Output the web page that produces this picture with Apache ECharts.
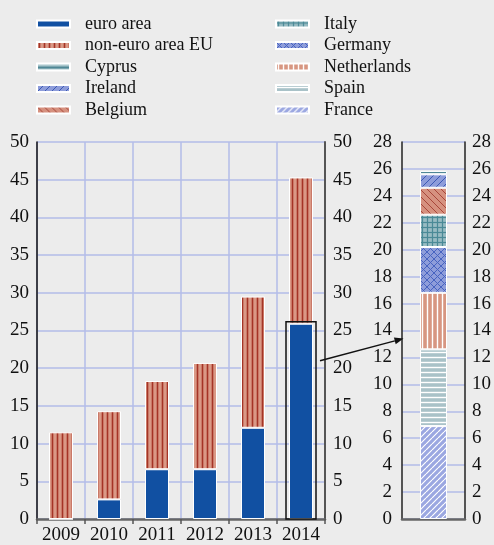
<!DOCTYPE html>
<html>
<head>
<meta charset="utf-8">
<script src="https://cdn.jsdelivr.net/npm/echarts@6/dist/echarts.min.js"></script>
<style>
  html, body { margin: 0; padding: 0; background: #ececec; }
  #chart { width: 494px; height: 545px; }
</style>
</head>
<body>
<div id="chart"></div>
<script>
// left panel: EU totals per year
const years = ['2009', '2010', '2011', '2012', '2013', '2014']
const euroArea = [0, 2.6, 6.6, 6.6, 12.1, 25.9]
const nonEuroArea = [11.5, 11.7, 11.7, 14.1, 17.4, 19.4]

// right panel: 2014 euro area breakdown, bottom to top
const countries = ['France', 'Spain', 'Netherlands', 'Germany', 'Italy', 'Belgium', 'Ireland', 'Cyprus']
const countryValues = [6.9, 5.7, 4.2, 3.4, 2.4, 2.0, 1.0, 0.25]

const leftTicks = { min: 0, max: 50, interval: 5 }
const rightTicks = { min: 0, max: 28, interval: 2 }

const legendLeft = ['euro area', 'non-euro area EU', 'Cyprus', 'Ireland', 'Belgium']
const legendRight = ['Italy', 'Germany', 'Netherlands', 'Spain', 'France']

const arrowFromValue = 21
const arrowToValue = 13.4

const FONT = '"Liberation Serif", "Times New Roman", serif'
const gridColor = '#b3bce9'

// --- pattern helpers ---
function pattern(size, bg, draw) {
    const c = document.createElement('canvas')
    c.width = size
    c.height = size
    const ctx = c.getContext('2d')
    ctx.fillStyle = bg
    ctx.fillRect(0, 0, size, size)
    draw(ctx, size)
    return { image: c, repeat: 'repeat' }
}
const vLines = (color, w) => (ctx, s) => { ctx.fillStyle = color; ctx.fillRect(s / 2 - w / 2, 0, w, s) }
const hLines = (color, w) => (ctx, s) => { ctx.fillStyle = color; ctx.fillRect(0, s / 2 - w / 2, s, w) }
const diag = (color, w, dir) => (ctx, s) => {
    ctx.strokeStyle = color
    ctx.lineWidth = w
    ctx.beginPath()
    for (let k = -1; k <= 1; k++) {
        if (dir === '/') { ctx.moveTo(k * s, s); ctx.lineTo(k * s + s, 0) }
        else { ctx.moveTo(k * s, 0); ctx.lineTo(k * s + s, s) }
    }
    ctx.stroke()
}
const both = (a, b) => (ctx, s) => { a(ctx, s); b(ctx, s) }

const fills = {
    'euro area': '#1150a2',
    'non-euro area EU': pattern(5, '#da9986', vLines('#a53426', 1.6)),
    'Cyprus': pattern(8, '#a9c6cc', hLines('#4f8795', 2)),
    'Ireland': pattern(7, '#8d9cda', diag('#3c59b4', 1, '/')),
    'Belgium': pattern(7, '#d6917f', diag('#a8473a', 1, '\\')),
    'Italy': pattern(5, '#98bcc3', both(vLines('#4b8a97', 1.2), hLines('#4b8a97', 1.2))),
    'Germany': pattern(7, '#8e9dda', both(diag('#4763c0', 1, '/'), diag('#4763c0', 1, '\\'))),
    'Netherlands': pattern(5, '#d79681', vLines('#ffffff', 1.4)),
    'Spain': pattern(5, '#a9c2c8', hLines('#ffffff', 1.4)),
    'France': pattern(6, '#9ba7e1', diag('#ffffff', 1.2, '/'))
}

const chart = echarts.init(document.getElementById('chart'))

const tickLabel = { fontFamily: FONT, fontSize: 19, color: '#111' }
const legendBase = {
    orient: 'vertical',
    top: 10,
    itemWidth: 33,
    itemHeight: 7,
    itemGap: 3.5,
    icon: 'rect',
    selectedMode: false,
    textStyle: { fontFamily: FONT, fontSize: 18, color: '#111', padding: [0, 0, 0, 10] }
}

const barStyle = name => ({ color: fills[name], borderColor: '#fff', borderWidth: 1 })

const option = {
    backgroundColor: '#ececec',
    animation: false,
    legend: [
        { ...legendBase, left: 31, data: legendLeft },
        { ...legendBase, left: 270, data: legendRight }
    ],
    grid: [
        { left: 37, right: 169, top: 142, bottom: 26 },
        { left: 402, right: 26, top: 142, bottom: 26 }
    ],
    xAxis: [
        {
            gridIndex: 0, type: 'category', data: years,
            axisLine: { lineStyle: { color: '#666', width: 2.5 } },
            axisTick: { show: true, interval: 0, length: 5, lineStyle: { color: '#555', width: 1.5 } },
            axisLabel: { ...tickLabel, interval: 0, margin: 7 },
            splitLine: { show: true, interval: 0, lineStyle: { color: gridColor, width: 1.5 } }
        },
        {
            gridIndex: 1, type: 'category', data: [''],
            axisLine: { lineStyle: { color: '#666', width: 2.5 } },
            axisTick: { show: false },
            axisLabel: { show: false },
            splitLine: { show: false }
        }
    ],
    yAxis: [
        {
            gridIndex: 0, position: 'left', ...leftTicks,
            axisLine: { show: true, lineStyle: { color: '#111', width: 1.5 } },
            axisTick: { show: false },
            axisLabel: { ...tickLabel, margin: 8 },
            splitLine: { show: true, lineStyle: { color: gridColor, width: 1.5 } }
        },
        {
            gridIndex: 0, position: 'right', ...leftTicks,
            axisLine: { show: true, lineStyle: { color: '#555', width: 2 } },
            axisTick: { show: false },
            axisLabel: { ...tickLabel, margin: 8 },
            splitLine: { show: false }
        },
        {
            gridIndex: 1, position: 'left', ...rightTicks,
            axisLine: { show: true, lineStyle: { color: '#222', width: 1.5 } },
            axisTick: { show: false },
            axisLabel: { ...tickLabel, margin: 10 },
            splitLine: { show: true, lineStyle: { color: gridColor, width: 1.5 } }
        },
        {
            gridIndex: 1, position: 'right', ...rightTicks,
            axisLine: { show: true, lineStyle: { color: '#222', width: 1.5 } },
            axisTick: { show: false },
            axisLabel: { ...tickLabel, margin: 7 },
            splitLine: { show: false }
        }
    ],
    series: [
        {
            name: 'euro area', type: 'bar', stack: 'eu', xAxisIndex: 0, yAxisIndex: 0,
            barWidth: 24, itemStyle: barStyle('euro area'), data: euroArea
        },
        {
            name: 'non-euro area EU', type: 'bar', stack: 'eu', xAxisIndex: 0, yAxisIndex: 0,
            barWidth: 24, itemStyle: barStyle('non-euro area EU'), data: nonEuroArea
        },
        // outline round the 2014 euro area bar
        {
            type: 'custom', xAxisIndex: 0, yAxisIndex: 0, z: 5,
            data: [[years.length - 1, euroArea[years.length - 1]]],
            renderItem: (params, api) => {
                const top = api.coord([api.value(0), api.value(1)])
                const base = api.coord([api.value(0), 0])
                const w = 30
                return {
                    type: 'rect',
                    shape: { x: top[0] - w / 2, y: top[1] - 2, width: w, height: base[1] - top[1] + 2 },
                    style: { fill: 'none', stroke: '#111', lineWidth: 1.5 }
                }
            }
        },
        ...countries.map((name, i) => ({
            name, type: 'bar', stack: 'ea', xAxisIndex: 1, yAxisIndex: 2,
            barWidth: 27, itemStyle: barStyle(name), data: [countryValues[i]]
        }))
    ]
}

chart.setOption(option)

// arrow from the 2014 bar to the breakdown bar
const p0 = chart.convertToPixel({ xAxisIndex: 0, yAxisIndex: 0 }, [years.length - 1, arrowFromValue])
const p1 = chart.convertToPixel({ xAxisIndex: 1, yAxisIndex: 2 }, [0, arrowToValue])
const x0 = p0[0] + 19, y0 = p0[1]
const x1 = p1[0] - 30, y1 = p1[1]
const ang = Math.atan2(y1 - y0, x1 - x0)
const hl = 9, hw = 3.5
const bx = x1 - hl * Math.cos(ang), by = y1 - hl * Math.sin(ang)
chart.setOption({
    graphic: [
        { type: 'line', shape: { x1: x0, y1: y0, x2: bx, y2: by }, style: { stroke: '#111', lineWidth: 1.5 }, z: 100 },
        {
            type: 'polygon', z: 100,
            shape: { points: [[x1, y1], [bx - hw * Math.sin(ang), by + hw * Math.cos(ang)], [bx + hw * Math.sin(ang), by - hw * Math.cos(ang)]] },
            style: { fill: '#111' }
        }
    ]
})
</script>
</body>
</html>
